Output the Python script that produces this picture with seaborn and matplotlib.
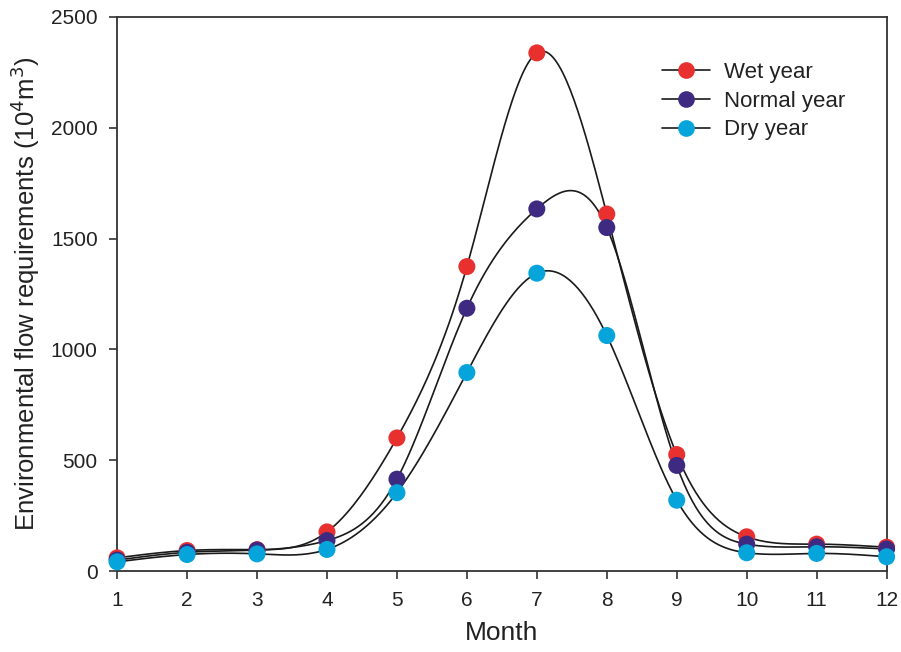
import numpy as np
import pandas as pd
import seaborn as sns
import matplotlib.pyplot as plt
from matplotlib.lines import Line2D

# data
months = [1, 2, 3, 4, 5, 6, 7, 8, 9, 10, 11, 12]
wet = [60, 93, 97, 177, 601, 1374, 2338, 1611, 526, 155, 122, 108]
normal = [50, 85, 95, 138, 415, 1186, 1634, 1550, 477, 122, 110, 100]
dry = [42, 75, 78, 98, 354, 896, 1344, 1063, 320, 83, 80, 65]
labels = ["Wet year", "Normal year", "Dry year"]
colors = ["#E8312F", "#3E2A80", "#05A4DA"]


def natural_spline(x, y, xs):
    x = np.asarray(x, float)
    y = np.asarray(y, float)
    n = len(x)
    h = np.diff(x)
    A = np.zeros((n, n))
    b = np.zeros(n)
    A[0, 0] = A[-1, -1] = 1
    for i in range(1, n - 1):
        A[i, i - 1] = h[i - 1]
        A[i, i] = 2 * (h[i - 1] + h[i])
        A[i, i + 1] = h[i]
        b[i] = 3 * ((y[i + 1] - y[i]) / h[i] - (y[i] - y[i - 1]) / h[i - 1])
    c = np.linalg.solve(A, b)
    idx = np.clip(np.searchsorted(x, xs) - 1, 0, n - 2)
    dx = xs - x[idx]
    bb = (y[idx + 1] - y[idx]) / h[idx] - h[idx] * (2 * c[idx] + c[idx + 1]) / 3
    d = (c[idx + 1] - c[idx]) / (3 * h[idx])
    return y[idx] + bb * dx + c[idx] * dx ** 2 + d * dx ** 3


sns.set_style("ticks")
plt.rcParams["font.family"] = ["Liberation Sans", "DejaVu Sans"]

df = pd.DataFrame({"Month": months * 3,
                   "Value": wet + normal + dry,
                   "Series": np.repeat(labels, len(months))})

fig = plt.figure(figsize=(9.01, 6.52), dpi=100)
ax = fig.add_axes([0.130, 0.124, 0.854, 0.850])

xs = np.linspace(1, 12, 400)
for vals in [wet, normal, dry]:
    ax.plot(xs, natural_spline(months, vals, xs), color="#1a1a1a", lw=1.2, zorder=2)

sns.scatterplot(data=df, x="Month", y="Value", hue="Series", palette=colors,
                s=150, edgecolor="none", legend=False, ax=ax, zorder=3, clip_on=False)

ax.set_xlim(1, 12)
ax.set_ylim(0, 2500)
ax.set_xticks(months)
ax.set_yticks([0, 500, 1000, 1500, 2000, 2500])
ax.tick_params(direction="out", length=6, width=1.2, labelsize=15, pad=8,
               color="#333333", labelcolor="#222222")
for s in ax.spines.values():
    s.set_color("#333333")
    s.set_linewidth(1.3)
ax.set_xlabel("Month", fontsize=19, labelpad=8, color="#222222")
ax.set_ylabel("Environmental flow requirements (10$^4$m$^3$)", fontsize=18.5,
              labelpad=6, color="#222222")

handles = [Line2D([], [], color="#1a1a1a", lw=1.2, marker="o", markersize=12,
                  markerfacecolor=c, markeredgecolor="none") for c in colors]
ax.legend(handles, labels, loc="upper left", bbox_to_anchor=(0.696, 0.935),
          frameon=False, fontsize=16, handlelength=2.2, labelspacing=0.35,
          handletextpad=0.6, borderaxespad=0, labelcolor="#222222")

fig.savefig("out.png", dpi=100)
